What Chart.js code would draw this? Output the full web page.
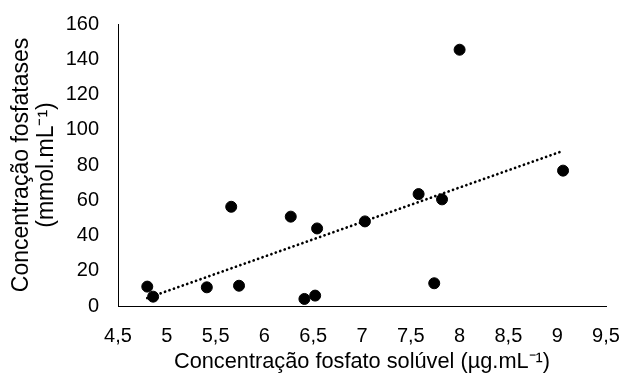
<!DOCTYPE html>
<html>
<head>
<meta charset="utf-8">
<script src="https://cdn.jsdelivr.net/npm/chart.js@4"></script>
<style>
  html, body { margin: 0; padding: 0; background: #fff; }
  #wrap { width: 622px; height: 374px; }
</style>
</head>
<body>
<div id="wrap"><canvas id="mycanvas" width="622" height="374"></canvas></div>
<script>
// fosfato soluvel (x) vs fosfatases (y)
var fosfatoX = [4.80, 4.86, 5.41, 5.74, 5.66, 6.27, 6.41, 6.52, 6.54, 7.03, 7.58, 7.82, 7.74, 8.00, 9.06];
var fosfatasesY = [11, 5.3, 10.6, 11.5, 56.3, 50.7, 4, 5.9, 44, 48, 63.5, 60.5, 12.9, 145.4, 76.8];
// linha de tendencia (pontas)
var trendX = [4.80, 9.06];
var trendY = [4.5, 88];

var xTitle = "Concentração fosfato solúvel (µg.mL⁻¹)";
var yTitle = ["Concentração fosfatases", "(mmol.mL⁻¹)"];

var pontos = [];
for (var i in fosfatoX) {
	pontos.push({x: fosfatoX[i], y: fosfatasesY[i]});
}
var tendencia = [];
for (var j in trendX) {
	tendencia.push({x: trendX[j], y: trendY[j]});
}

var fonte = "'Liberation Sans', Arial, sans-serif";

var ctx = document.getElementById("mycanvas");
var grafico = new Chart(ctx, {
	type: 'scatter',
	data: {
		datasets: [{
			label: "Fosfatases",
			data: pontos,
			backgroundColor: '#000',
			borderColor: '#000',
			pointRadius: 5.5,
			pointHoverRadius: 5.5
		}, {
			label: "Tendência",
			type: 'line',
			data: tendencia,
			borderColor: '#000',
			borderWidth: 2.7,
			borderDash: [0.1, 4.6],
			borderCapStyle: 'round',
			pointRadius: 0,
			fill: false
		}]
	},
	options: {
		responsive: false,
		animation: false,
		layout: { padding: 0 },
		plugins: {
			legend: { display: false },
			tooltip: { enabled: false }
		},
		scales: {
			x: {
				type: 'linear',
				min: 4.5,
				max: 9.5,
				grid: { display: false, drawTicks: false },
				border: { display: true, color: '#000', width: 1 },
				ticks: {
					stepSize: 0.5,
					padding: 18,
					color: '#000',
					font: { family: fonte, size: 20 },
					callback: function(v) { return String(v).replace('.', ','); }
				},
				title: {
					display: true,
					text: xTitle,
					color: '#000',
					font: { family: fonte, size: 21.75 },
					padding: { top: 0, bottom: -1.5 }
				},
				afterFit: function(scale) {
					scale.height = 68;
					scale.paddingRight = 16;
				}
			},
			y: {
				min: 0,
				max: 160,
				grid: { display: false, drawTicks: false },
				border: { display: true, color: '#000', width: 1 },
				ticks: {
					stepSize: 20,
					padding: 19,
					color: '#000',
					font: { family: fonte, size: 20 }
				},
				title: {
					display: true,
					text: yTitle,
					color: '#000',
					font: { family: fonte, size: 23, lineHeight: 1.087 },
					padding: { top: 9.5, bottom: 0 }
				},
				afterFit: function(scale) {
					scale.width = 118;
					scale.paddingTop = 24;
					scale.paddingBottom = 0;
				}
			}
		}
	}
});
</script>
</body>
</html>
